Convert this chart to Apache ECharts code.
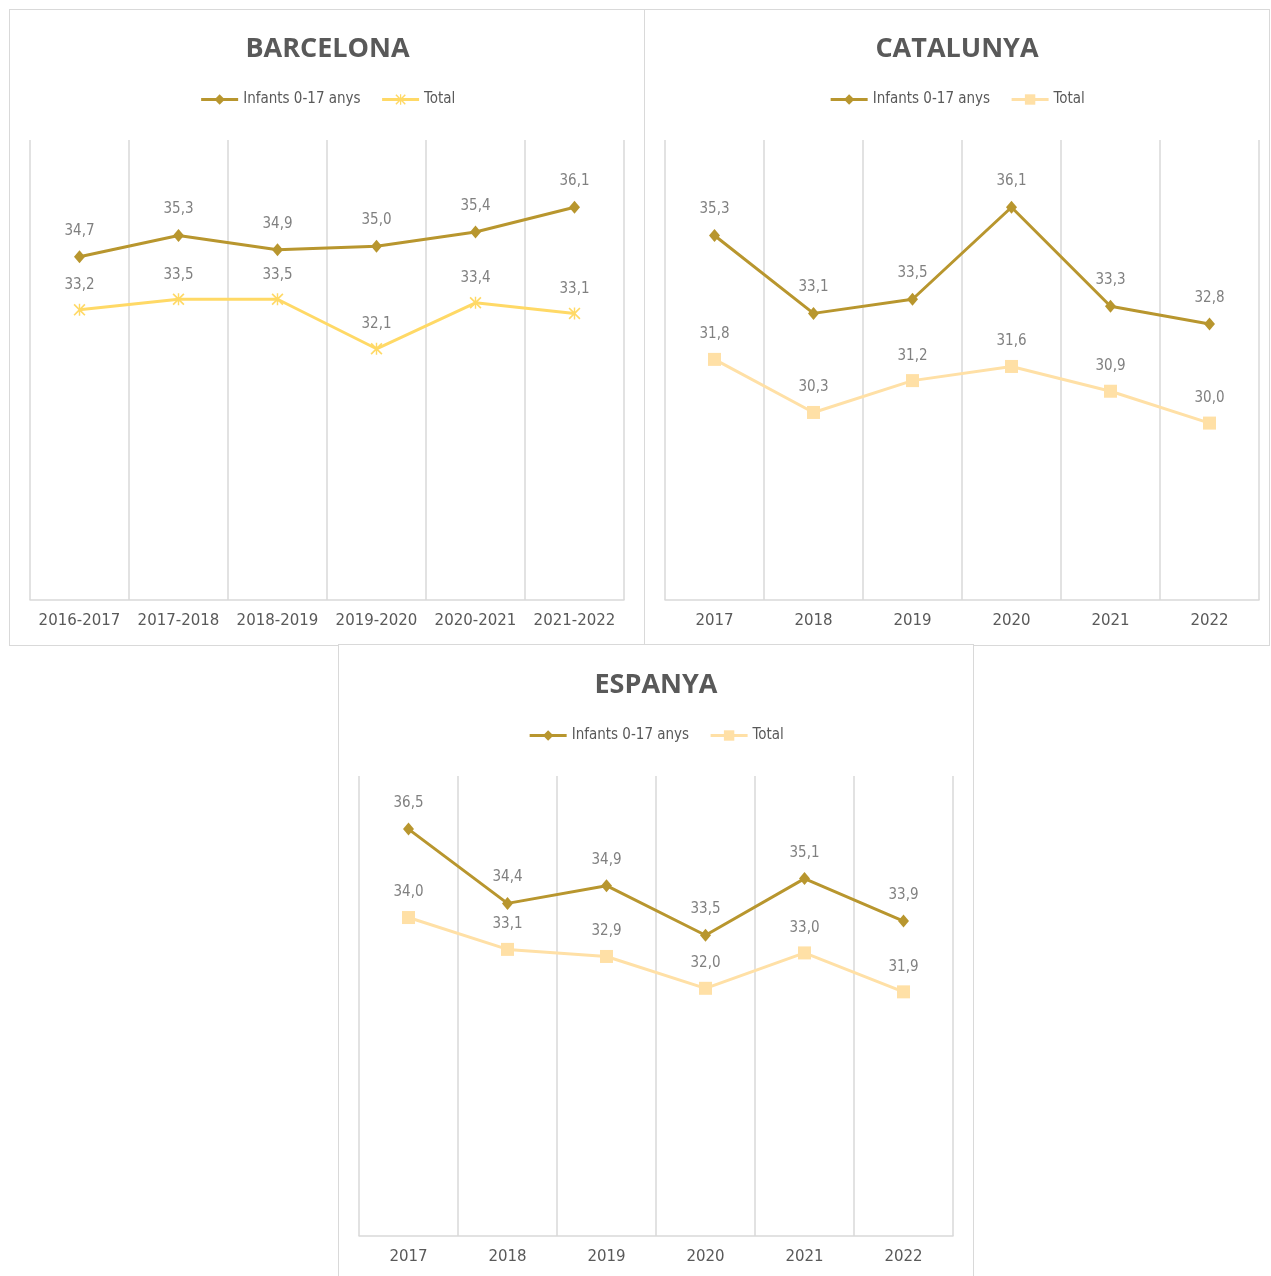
<!DOCTYPE html>
<html>
<head>
<meta charset="utf-8">
<script src="https://cdn.jsdelivr.net/npm/echarts@6/dist/echarts.min.js"></script>
<style>
html,body{margin:0;padding:0;background:#fff;width:1271px;height:1276px;overflow:hidden;}
.panel{position:absolute;outline:1.5px solid #D9D9D9;background:#fff;}
</style>
</head>
<body>
<div id="p1" class="panel" style="left:10px;top:10px;width:635px;height:635px;"></div>
<div id="p2" class="panel" style="left:645px;top:10px;width:624px;height:635px;"></div>
<div id="p3" class="panel" style="left:339px;top:645px;width:634px;height:640px;"></div>
<script>
// ---- Data ----
const seriesNames = ['Infants 0-17 anys', 'Total'];

const bcnTitle = 'BARCELONA';
const bcnCategories = ['2016-2017', '2017-2018', '2018-2019', '2019-2020', '2020-2021', '2021-2022'];
const bcnInfants = [34.7, 35.3, 34.9, 35.0, 35.4, 36.1];
const bcnTotal = [33.2, 33.5, 33.5, 32.1, 33.4, 33.1];

const catTitle = 'CATALUNYA';
const catCategories = ['2017', '2018', '2019', '2020', '2021', '2022'];
const catInfants = [35.3, 33.1, 33.5, 36.1, 33.3, 32.8];
const catTotal = [31.8, 30.3, 31.2, 31.6, 30.9, 30.0];

const espTitle = 'ESPANYA';
const espCategories = ['2017', '2018', '2019', '2020', '2021', '2022'];
const espInfants = [36.5, 34.4, 34.9, 33.5, 35.1, 33.9];
const espTotal = [34.0, 33.1, 32.9, 32.0, 33.0, 31.9];

// ---- Styles ----
const C_INF = '#B8962E';
const C_TOT_BCN = '#FFD966';
const C_TOT_OTHER = '#FFE0A6';
const GRIDLINE = '#D9D9D9';
const TXT = '#595959';
const LBL = '#808080';
const NARROW = "'DejaVu Sans Condensed','Liberation Sans Narrow','Noto Sans',sans-serif";
const X_SYMBOL = 'path://M0,1L1,0L5,4L9,0L10,1L6,5L10,9L9,10L5,6L1,10L0,9L4,5Z M4.4,0L5.6,0L5.6,10L4.4,10Z';

function fmt(p) { return p.value.toFixed(1).replace('.', ','); }

function build(el, title, cats, inf, tot, totColor, totSymbol, totSize, layout) {
  const chart = echarts.init(document.getElementById(el), null, {renderer: 'canvas'});
  const labelCfg = (dist) => ({
    show: true, position: 'top', distance: dist, formatter: fmt,
    color: LBL, fontSize: 15, fontFamily: NARROW
  });
  chart.setOption({
    animation: false,
    title: {
      text: title, left: 'center', top: layout.titleTop,
      textStyle: {color: TXT, fontSize: 27, fontWeight: 'bold', fontFamily: "'Open Sans','Noto Sans',sans-serif"}
    },
    legend: {
      data: seriesNames, top: layout.legendTop, left: 'center', itemWidth: 37, itemHeight: 13, itemGap: 20,
      lineStyle: {width: 3},
      textStyle: {color: TXT, fontSize: 15, fontFamily: NARROW}
    },
    grid: {left: 20, right: layout.right, top: layout.top, bottom: layout.bottom, containLabel: false},
    xAxis: {
      type: 'category', data: cats, boundaryGap: true,
      axisLine: {show: true, lineStyle: {color: GRIDLINE, width: 1.5}},
      axisTick: {show: false},
      splitLine: {show: true, interval: 0, lineStyle: {color: GRIDLINE, width: 1.5}},
      axisLabel: {interval: 0, color: TXT, fontSize: 15, margin: 14, fontFamily: "'DejaVu Sans',sans-serif"}
    },
    yAxis: {type: 'value', min: 25, max: 38, show: false, splitLine: {show: false}},
    series: [
      {
        name: seriesNames[1], type: 'line', data: tot,
        symbol: totSymbol, symbolSize: totSize,
        lineStyle: {color: totColor, width: 3},
        itemStyle: {color: totColor},
        label: labelCfg(11), z: 2
      },
      {
        name: seriesNames[0], type: 'line', data: inf,
        symbol: 'diamond', symbolSize: [11, 13],
        lineStyle: {color: C_INF, width: 3},
        itemStyle: {color: C_INF},
        label: labelCfg(12), z: 3
      }
    ]
  });
  return chart;
}

build('p1', bcnTitle, bcnCategories, bcnInfants, bcnTotal, C_TOT_BCN, X_SYMBOL, 12,
  {titleTop: 21, legendTop: 77, right: 21, top: 130, bottom: 45});
build('p2', catTitle, catCategories, catInfants, catTotal, C_TOT_OTHER, 'rect', 13,
  {titleTop: 21, legendTop: 77, right: 10, top: 130, bottom: 45});
build('p3', espTitle, espCategories, espInfants, espTotal, C_TOT_OTHER, 'rect', 13,
  {titleTop: 22, legendTop: 78, right: 20, top: 131, bottom: 49});
</script>
</body>
</html>
